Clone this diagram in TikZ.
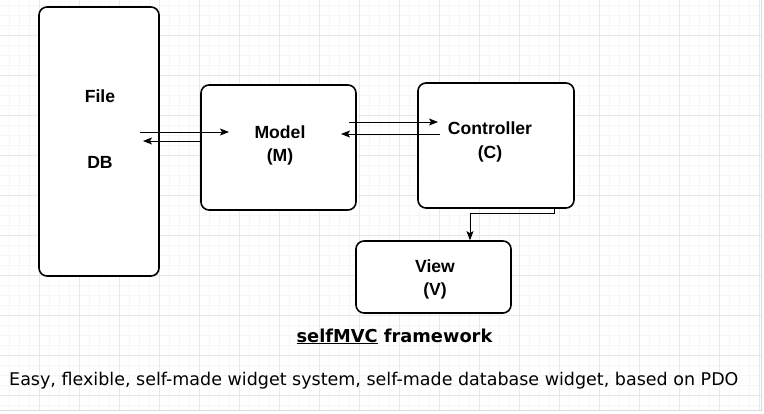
\documentclass[tikz,border=0pt]{standalone}
\usepackage{fontspec}
\usetikzlibrary{arrows.meta}
\newfontfamily\labfont{Liberation Sans}
\newfontfamily\dvfont{DejaVu Sans}
\begin{document}
\begin{tikzpicture}[x=1pt,y=-1pt,
  box/.style={draw=black,line width=1.6pt,rounded corners=8pt,fill=white,inner sep=0pt},
  lab/.style={font=\labfont\bfseries\fontsize{17.6}{20}\selectfont,anchor=base,inner sep=0pt},
  arr/.style={-{Stealth[length=9pt,width=7pt,inset=2pt]},line width=0.9pt},
  minor/.style={draw=gray!7,line width=0.8pt},
  major/.style={draw=gray!18,line width=0.9pt}]
\useasboundingbox (0,0) rectangle (764,413);
\fill[white] (0,0) rectangle (764,413);
% grid
\foreach \x in {9,19,...,759} \draw[minor] (\x,0) -- (\x,410);
\foreach \y in {5,15,...,405} \draw[minor] (0,\y) -- (761,\y);
\foreach \x in {39,79,...,759} \draw[major] (\x,0) -- (\x,410);
\foreach \y in {35,75,...,395} \draw[major] (0,\y) -- (761,\y);
\draw[gray!30,line width=1.5pt] (761.5,0) -- (761.5,410.5) -- (0,410.5);
% boxes
\node[box,minimum width=120pt,minimum height=269pt] (db) at (99,141.5) {};
\node[box,minimum width=155pt,minimum height=125pt] (model) at (278.5,147.5) {};
\node[box,minimum width=156pt,minimum height=125pt] (ctrl) at (496,145.5) {};
\node[box,minimum width=155pt,minimum height=72pt] (view) at (433.5,277) {};
% labels
\node[lab] (tfile) at (100,102) {File};
\node[lab] (tdb) at (100,168) {DB};
\node[lab] (tmodel) at (280,138) {Model};
\node[lab] (tm) at (280,161) {(M)};
\node[lab] (tctrl) at (490,134) {Controller};
\node[lab] (tc) at (490,158) {(C)};
\node[lab] (tview) at (435,272) {View};
\node[lab] (tv) at (435,295) {(V)};
% connectors
\coordinate (a1s) at (140,132);
\coordinate (a1e) at (229,132);
\coordinate (a2e) at (143,141);
\coordinate (a3s) at (349,122);
\coordinate (a3e) at (438,122);
\coordinate (a4s) at (440,134);
\coordinate (a4e) at (341,134);
\coordinate (c5) at (554,213);
\coordinate (c6) at (470,213);
\draw[arr] (a1s) -- (a1e);
\draw[arr] (model.west |- a2e) -- (a2e);
\draw[arr] (a3s) -- (a3e);
\draw[arr] (a4s) -- (a4e);
\draw[arr] (ctrl.south -| c5) -- (c5) -- (c6) -- (view.north -| c6);
% captions
\node[anchor=base,inner sep=0pt,font=\dvfont\bfseries\fontsize{17.8}{20}\selectfont] (title) at (394.5,342) {\underline{selfMVC} framework};
\node[anchor=base west,inner sep=0pt,font=\dvfont\fontsize{17.5}{20}\selectfont] (desc) at (9,385) {Easy, flexible, self-made widget system, self-made database widget, based on PDO};
\end{tikzpicture}
\end{document}
